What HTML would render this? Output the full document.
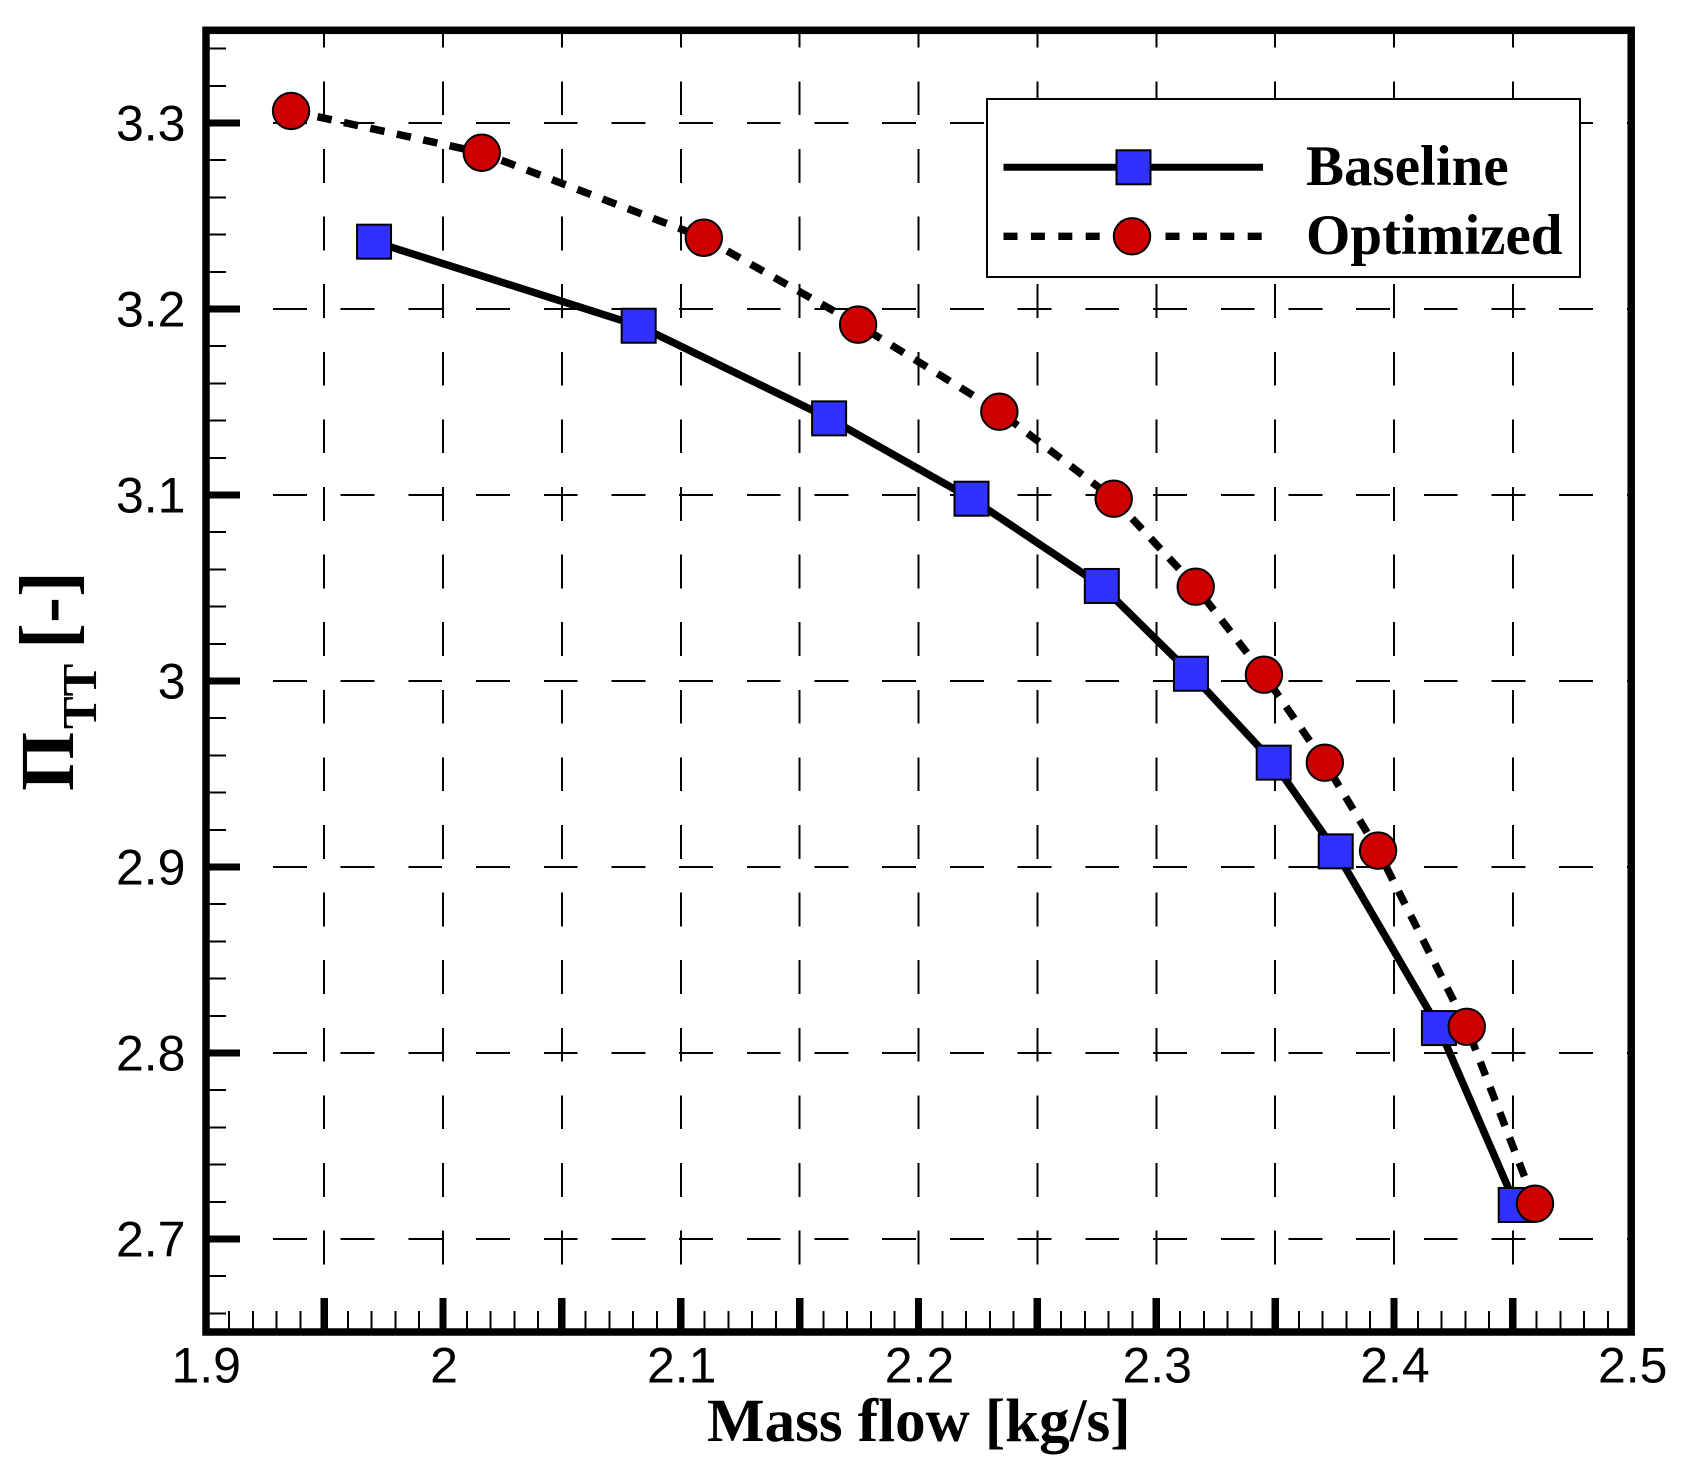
<!DOCTYPE html>
<html lang="en">
<head>
<meta charset="utf-8">
<title>Mass flow vs total pressure ratio</title>
<style>
html,body{margin:0;padding:0;background:#fff;width:1684px;height:1481px;overflow:hidden}
svg{display:block}
.tick-label{font-family:"Liberation Sans",sans-serif;font-size:50px;fill:#000}
.serif{font-family:"Liberation Serif",serif;font-weight:bold;fill:#000}
</style>
</head>
<body>
<svg id="chart" xmlns="http://www.w3.org/2000/svg" width="1684" height="1481" viewBox="0 0 1684 1481">
  <rect x="0" y="0" width="1684" height="1481" fill="#fff"/>
  <g id="grid" shape-rendering="crispEdges"></g>
  <g id="ticks" shape-rendering="crispEdges"></g>
  <g id="series"></g>
  <rect x="206" y="30.3" width="1425.2" height="1301.7" fill="none" stroke="#000" stroke-width="7.5"/>
  <g id="labels"></g>

  <text class="serif" x="707" y="1441" font-size="61">Mass flow [kg/s]</text>
  <g>
    <text class="serif" transform="translate(73 791) rotate(-90)" font-size="76">Π</text>
    <text class="serif" transform="translate(96 729) rotate(-90)" font-size="49">TT</text>
    <text class="serif" transform="translate(73.5 649) rotate(-90)" font-size="78">[-]</text>
  </g>

  <g>
    <rect x="987" y="99" width="593" height="178" fill="#fff" stroke="#000" stroke-width="2"/>
    <g>
      <line x1="1003.5" y1="167.3" x2="1263" y2="167.3" stroke="#000" stroke-width="7"/>
      <rect x="1116.5" y="150.3" width="34" height="34" fill="#3030ff" stroke="#000" stroke-width="2"/>
      <text class="serif" x="1306" y="185" font-size="57">Baseline</text>
    </g>
    <g>
      <line x1="1003.5" y1="236.3" x2="1100" y2="236.3" stroke="#000" stroke-width="7.3" stroke-dasharray="14 13.4"/>
      <line x1="1165.5" y1="236.3" x2="1262" y2="236.3" stroke="#000" stroke-width="7.3" stroke-dasharray="14 13.4"/>
      <circle cx="1132" cy="236.3" r="18.2" fill="#cc0000" stroke="#000" stroke-width="2"/>
      <text class="serif" x="1306" y="254" font-size="57">Optimized</text>
    </g>
  </g>
</svg>
<script>
// Axis ticks
const xLabelValues = [1.9, 2.0, 2.1, 2.2, 2.3, 2.4, 2.5];
const xLabelText = ['1.9', '2', '2.1', '2.2', '2.3', '2.4', '2.5'];
const yLabelValues = [2.7, 2.8, 2.9, 3.0, 3.1, 3.2, 3.3];
const yLabelText = ['2.7', '2.8', '2.9', '3', '3.1', '3.2', '3.3'];
const xMajorTicks = [1.95, 2.0, 2.05, 2.1, 2.15, 2.2, 2.25, 2.3, 2.35, 2.4, 2.45];
const xMinorTicks = [1.91, 1.92, 1.93, 1.94, 1.96, 1.97, 1.98, 1.99, 2.01, 2.02, 2.03, 2.04, 2.06, 2.07, 2.08, 2.09, 2.11, 2.12, 2.13, 2.14, 2.16, 2.17, 2.18, 2.19, 2.21, 2.22, 2.23, 2.24, 2.26, 2.27, 2.28, 2.29, 2.31, 2.32, 2.33, 2.34, 2.36, 2.37, 2.38, 2.39, 2.41, 2.42, 2.43, 2.44, 2.46, 2.47, 2.48, 2.49];
const yMinorTicks = [2.66, 2.68, 2.72, 2.74, 2.76, 2.78, 2.82, 2.84, 2.86, 2.88, 2.92, 2.94, 2.96, 2.98, 3.02, 3.04, 3.06, 3.08, 3.12, 3.14, 3.16, 3.18, 3.22, 3.24, 3.26, 3.28, 3.32, 3.34];

// Series
const baselineMassFlow = [1.9710, 2.0823, 2.1624, 2.2223, 2.2771, 2.3146, 2.3494, 2.3755, 2.4189, 2.4512];
const baselinePressure = [3.2362, 3.1910, 3.1412, 3.0980, 3.0511, 3.0039, 2.9561, 2.9084, 2.8134, 2.7183];
const optimizedMassFlow = [1.9361, 2.0163, 2.1097, 2.1746, 2.2340, 2.2821, 2.3166, 2.3453, 2.3709, 2.3933, 2.4306, 2.4593];
const optimizedPressure = [3.3065, 3.2840, 3.2383, 3.1916, 3.1448, 3.0980, 3.0507, 3.0034, 2.9561, 2.9088, 2.8141, 2.7190];

const NS = 'http://www.w3.org/2000/svg';
const X_MIN = 1.9, X_MAX = 2.5, Y_MIN = 2.65, Y_MAX = 3.35;
function xPos(v) { return 443 + (v - 2) * 2377.5; }
function yPos(v) { return 123 + (3.3 - v) * 1860; }

function make(parent, tag, attrs, text) {
  const el = document.createElementNS(NS, tag);
  for (const k in attrs) el.setAttribute(k, attrs[k]);
  if (text !== undefined) el.textContent = text;
  parent.appendChild(el);
  return el;
}

const gridG = document.getElementById('grid');
const ticksG = document.getElementById('ticks');
const seriesG = document.getElementById('series');
const labelsG = document.getElementById('labels');

// Grid lines (long dash), drawn at every major tick
xMajorTicks.forEach(function (v) {
  const el = make(gridG, 'line', { x1: xPos(v), y1: yPos(Y_MIN), x2: xPos(v), y2: yPos(Y_MAX), stroke: '#000', 'stroke-width': 2, 'stroke-dasharray': '33.8 33.8' });
  
  
});
yLabelValues.forEach(function (v) {
  const el = make(gridG, 'line', { x1: xPos(X_MIN), y1: yPos(v), x2: xPos(X_MAX), y2: yPos(v), stroke: '#000', 'stroke-width': 2, 'stroke-dasharray': '33.85 33.85' });
  
  
});

// Ticks
xMajorTicks.forEach(function (v) {
  const el = make(ticksG, 'line', { x1: xPos(v), y1: 1330, x2: xPos(v), y2: 1298, stroke: '#000', 'stroke-width': 7.3 });
  
  
});
xMinorTicks.forEach(function (v) {
  const el = make(ticksG, 'line', { x1: xPos(v), y1: 1330, x2: xPos(v), y2: 1311, stroke: '#000', 'stroke-width': 2 });
  
  
});
yLabelValues.forEach(function (v) {
  const el = make(ticksG, 'line', { x1: 208, y1: yPos(v), x2: 240, y2: yPos(v), stroke: '#000', 'stroke-width': 7 });
  
  
});
yMinorTicks.forEach(function (v) {
  const el = make(ticksG, 'line', { x1: 208, y1: yPos(v), x2: 226, y2: yPos(v), stroke: '#000', 'stroke-width': 2 });
  
  
});

// Tick labels
xLabelValues.forEach(function (v, i) {
  const el = make(labelsG, 'text', { class: 'tick-label', x: xPos(v) + 1, y: 1382.5, 'text-anchor': 'middle' }, xLabelText[i]);
  
  
});
yLabelValues.forEach(function (v, i) {
  const el = make(labelsG, 'text', { class: 'tick-label', x: 185.5, y: yPos(v) + 17.3, 'text-anchor': 'end' }, yLabelText[i]);
  
  
});

function pointString(xs, ys) {
  return xs.map(function (v, i) { return xPos(v) + ',' + yPos(ys[i]); }).join(' ');
}

// Baseline series
const baselineLine = make(seriesG, 'polyline', { points: pointString(baselineMassFlow, baselinePressure), fill: 'none', stroke: '#000', 'stroke-width': 7.5 });


baselineMassFlow.forEach(function (v, i) {
  const el = make(seriesG, 'rect', { x: xPos(v) - 17, y: yPos(baselinePressure[i]) - 17, width: 34, height: 34, fill: '#3030ff', stroke: '#000', 'stroke-width': 2 });
  
  
});

// Optimized series
const optimizedLine = make(seriesG, 'polyline', { points: pointString(optimizedMassFlow, optimizedPressure), fill: 'none', stroke: '#000', 'stroke-width': 7.5, 'stroke-dasharray': '14.5 12.55' });


optimizedMassFlow.forEach(function (v, i) {
  const el = make(seriesG, 'circle', { cx: xPos(v), cy: yPos(optimizedPressure[i]), r: 18.2, fill: '#cc0000', stroke: '#000', 'stroke-width': 2 });
  
  
});
</script>
</body>
</html>
